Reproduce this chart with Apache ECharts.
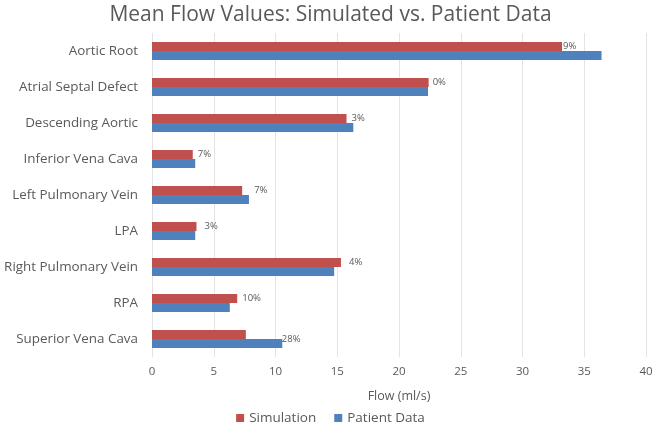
<!DOCTYPE html>
<html><head><meta charset="utf-8">
<script src="https://cdn.jsdelivr.net/npm/echarts@6/dist/echarts.min.js"></script>
<style>html,body{margin:0;padding:0;background:#fff}#c{width:661px;height:431px}</style>
</head><body><div id="c"></div>
<script>
var categories = ["Aortic Root","Atrial Septal Defect","Descending Aortic","Inferior Vena Cava","Left Pulmonary Vein","LPA","Right Pulmonary Vein","RPA","Superior Vena Cava"];
var simulation = [33.2, 22.4, 15.75, 3.3, 7.3, 3.6, 15.3, 6.9, 7.6];
var patientData = [36.4, 22.35, 16.3, 3.5, 7.85, 3.5, 14.75, 6.3, 10.55];
var diffLabels = ["9%","0%","3%","7%","7%","3%","4%","10%","28%"];
var labelDx = [1, 4, 5, 5, 12, 8, 8, 5, 36];
var labelDy = [0, 0, 0, 0, 0, 0, 0, 0, 5];
var xTicks = [0,5,10,15,20,25,30,35,40];

var font = "'Open Sans', 'Liberation Sans', Arial, sans-serif";
var chart = echarts.init(document.getElementById('c'));
var cats = categories.slice().reverse();
var sim = simulation.slice().reverse();
var pat = patientData.slice().reverse();
var lbl = diffLabels.slice().reverse();
var dx = labelDx.slice().reverse();
var dy = labelDy.slice().reverse();

chart.setOption({
  animation: false,
  title: {text: "Mean Flow Values: Simulated vs. Patient Data", left: 'center', top: 0,
    textStyle: {fontFamily: font, fontSize: 21, fontWeight: 'normal', color: '#595959'}},
  grid: {left: 152, right: 15, top: 33, bottom: 74},
  legend: {bottom: 1, itemWidth: 8, itemHeight: 8, itemGap: 18, icon: 'rect',
    textStyle: {fontFamily: font, fontSize: 13.5, color: '#595959'},
    data: ['Simulation','Patient Data']},
  xAxis: {type: 'value', min: xTicks[0], max: xTicks[xTicks.length-1], interval: 5,
    name: 'Flow (ml/s)', nameLocation: 'middle', nameGap: 33,
    nameTextStyle: {fontFamily: font, fontSize: 12.5, color: '#595959'},
    axisLine: {show: false}, axisTick: {show: false},
    axisLabel: {fontFamily: font, fontSize: 11.5, color: '#595959', margin: 9},
    splitLine: {lineStyle: {color: '#e3e3e3'}}},
  yAxis: {type: 'category', data: cats, axisTick: {show: false},
    axisLine: {show: false},
    axisLabel: {fontFamily: font, fontSize: 13.4, color: '#595959', margin: 14}},
  series: [
    {name: 'Simulation', type: 'bar', barWidth: 9, barGap: '0%',
     itemStyle: {color: '#c0504d'},
     data: sim.map(function(v, i){ return {value: v, label: {show: true, position: 'right',
       distance: 0, offset: [dx[i], dy[i]], formatter: lbl[i],
       fontFamily: font, fontSize: 9.5, color: '#595959'}}; })},
    {name: 'Patient Data', type: 'bar', barWidth: 9, barGap: '0%',
     itemStyle: {color: '#4f81bd'}, data: pat}
  ]
});
</script></body></html>
